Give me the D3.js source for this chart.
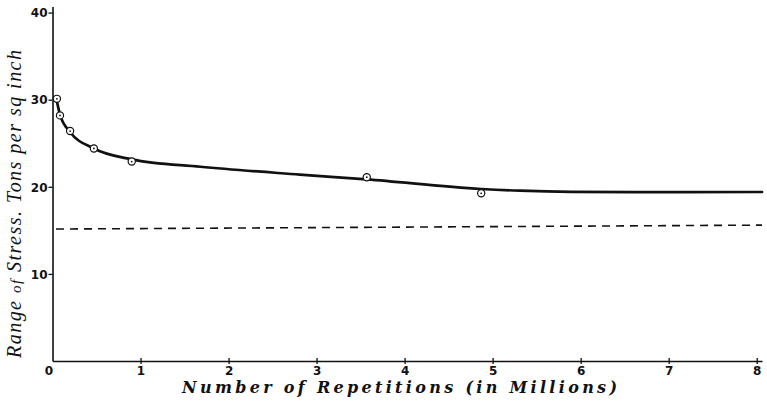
<!DOCTYPE html>
<html>
<head>
<meta charset="utf-8">
<script src="https://cdn.jsdelivr.net/npm/d3@7"></script>
<style>
  html, body { margin: 0; padding: 0; background: #fff; }
  svg { display: block; }
  .tick text { font-family: "DejaVu Sans", sans-serif; font-weight: bold; font-size: 12px; fill: #111; }
  .xtitle { font-family: "DejaVu Serif", serif; font-style: italic; font-weight: bold; fill: #111; }
  .ytitle { font-family: "Liberation Serif", "DejaVu Serif", serif; font-style: italic; fill: #111; }
</style>
</head>
<body>
<svg id="chart" width="767" height="402"></svg>
<script>
// Fatigue test results: range of stress against number of repetitions
const xTicks = [0, 1, 2, 3, 4, 5, 6, 7, 8];
const yTicks = [10, 20, 30, 40];

// Observed test points (millions of repetitions, tons per sq inch)
const obsReps   = [0.05, 0.085, 0.2, 0.47, 0.9, 3.57, 4.87];
const obsStress = [30.1, 28.2, 26.4, 24.4, 22.9, 21.1, 19.25];

// Smoothed fatigue curve drawn through the observations
const curveReps   = [0.04, 0.085, 0.2, 0.47, 0.9, 1.68, 2.81, 3.57, 4.87, 5.31, 5.9, 7.0, 8.06];
const curveStress = [30.3, 28.3, 26.3, 24.4, 23.15, 22.3, 21.4, 20.85, 19.75, 19.55, 19.42, 19.38, 19.4];

// Dashed reference (limiting) stress line
const limitReps   = [0.04, 8.06];
const limitStress = [15.15, 15.6];

const svg = d3.select("#chart");

const x = d3.scaleLinear().domain([0, 8.06]).range([52.5, 762]);
const y = d3.scaleLinear().domain([0, 40.7]).range([361, 6.5]);

// Axes
const xAxis = svg.append("g")
  .attr("transform", `translate(0,${y(0)})`)
  .call(d3.axisBottom(x).tickValues(xTicks).tickFormat(d3.format("d")).tickSize(4).tickSizeOuter(0));
xAxis.select(".domain").attr("stroke", "#111").attr("stroke-width", 1.6);
xAxis.selectAll(".tick line").attr("stroke", "#111").attr("stroke-width", 1.3).attr("y1", -3).attr("y2", 3);
xAxis.selectAll(".tick text").attr("y", 5);
xAxis.selectAll(".tick").filter(d => d === 0).select("line").remove();
xAxis.selectAll(".tick").filter(d => d === 0).select("text").attr("x", -4);

const yAxis = svg.append("g")
  .attr("transform", `translate(${x(0)},0)`)
  .call(d3.axisLeft(y).tickValues(yTicks).tickFormat(d3.format("d")).tickSize(4).tickSizeOuter(0));
yAxis.select(".domain").attr("stroke", "#111").attr("stroke-width", 1.6);
yAxis.selectAll(".tick line").attr("stroke", "#111").attr("stroke-width", 1.3);
yAxis.selectAll(".tick text").attr("x", -5).attr("dy", "0.35em");

// Dashed limit line
const limitData = limitReps.map((r, i) => [r, limitStress[i]]);
svg.append("path")
  .datum(limitData)
  .attr("fill", "none")
  .attr("stroke", "#111")
  .attr("stroke-width", 1.6)
  .attr("stroke-dasharray", "8,6")
  .attr("d", d3.line().x(d => x(d[0])).y(d => y(d[1])));

// Fitted curve
const curveData = curveReps.map((r, i) => [r, curveStress[i]]);
svg.append("path")
  .datum(curveData)
  .attr("fill", "none")
  .attr("stroke", "#111")
  .attr("stroke-width", 2.7)
  .attr("stroke-linecap", "round")
  .attr("d", d3.line().curve(d3.curveMonotoneX).x(d => x(d[0])).y(d => y(d[1])));

// Observation markers: small open circles with a centre dot
const obsData = obsReps.map((r, i) => [r, obsStress[i]]);
const pts = svg.append("g").selectAll("g").data(obsData).join("g")
  .attr("transform", d => `translate(${x(d[0])},${y(d[1])})`);
pts.append("circle").attr("r", 3.6).attr("fill", "#fff").attr("stroke", "#111").attr("stroke-width", 1.2);
pts.append("circle").attr("r", 0.9).attr("fill", "#111");

// Axis titles
const xt = svg.append("text").attr("class", "xtitle")
  .attr("x", 399.5).attr("y", 393).attr("text-anchor", "middle")
  .attr("font-size", 16)
  .attr("textLength", 435).attr("lengthAdjust", "spacing");
xt.append("tspan").text("Number of Repetitions  (in Millions)");

const yt = svg.append("text").attr("class", "ytitle")
  .attr("transform", "translate(21,204) rotate(-90)")
  .attr("text-anchor", "middle")
  .attr("font-size", 20)
  .attr("textLength", 308).attr("lengthAdjust", "spacing");
yt.append("tspan").text("Range ");
yt.append("tspan").attr("font-size", 15).text("of");
yt.append("tspan").text(" Stress.   Tons per sq inch");
</script>
</body>
</html>
